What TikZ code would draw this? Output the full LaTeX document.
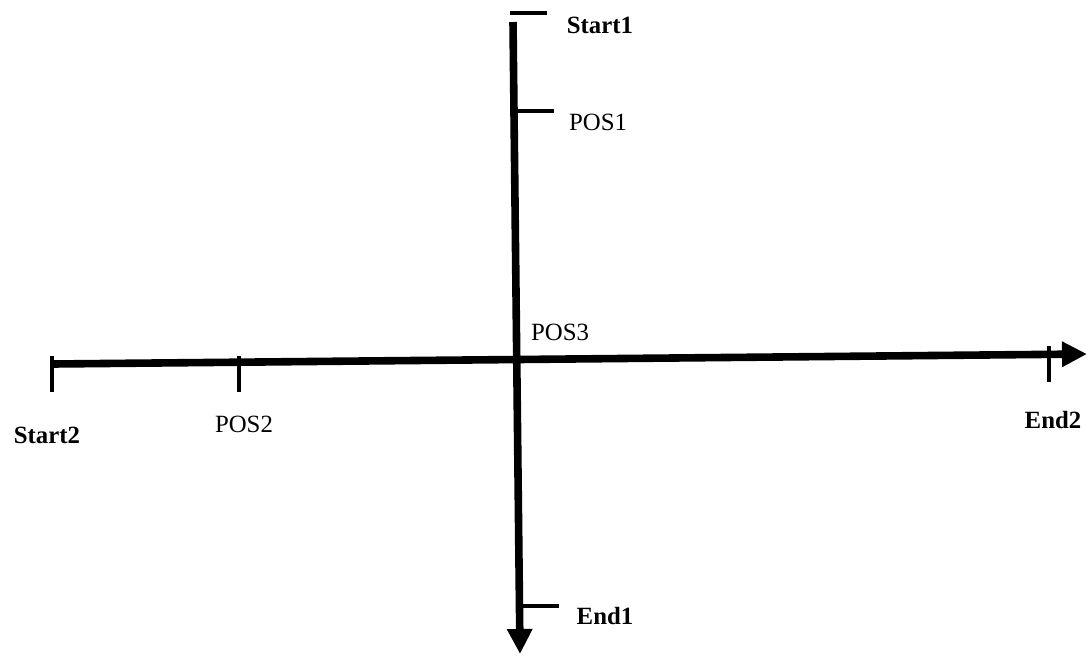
\documentclass[tikz,border=0pt]{standalone}
\usepackage{fontspec}
\setmainfont{Liberation Serif}
\usetikzlibrary{positioning, calc, arrows.meta}
\tikzset{
  axis line/.style={black, line width=3.8pt, -{Triangle[width=12pt,length=12.5pt]}},
  axis tick/.style={black, line width=1.9pt},
  lbl/.style={font=\fontsize{12.4}{14}\selectfont, inner sep=0},
  lbl end/.style={lbl, font=\fontsize{12.4}{14}\selectfont\bfseries}
}

\begin{document}
\begin{tikzpicture}[x=0.5pt, y=-0.5pt]
\useasboundingbox (0,0) rectangle (1087,655);

% axis ends
\coordinate (v0) at (513,22);
\coordinate (v1) at (520,654);
\coordinate (h0) at (52,364);
\coordinate (h1) at (1087,354);

\draw[axis line] (v0) -- (v1);
\draw[axis line] (h0) -- (h1);

% ticks on the vertical axis
\coordinate (t_s1a) at (510,13);  \coordinate (t_s1b) at (547,13);
\coordinate (t_p1a) at (516,111); \coordinate (t_p1b) at (554,111);
\coordinate (t_e1a) at (521,606); \coordinate (t_e1b) at (559,606);
\draw[axis tick] (t_s1a) -- (t_s1b);
\draw[axis tick] (t_p1a) -- (t_p1b);
\draw[axis tick] (t_e1a) -- (t_e1b);

% ticks on the horizontal axis
\coordinate (t_s2a) at (52,356);   \coordinate (t_s2b) at (52,392);
\coordinate (t_p2a) at (239,356);  \coordinate (t_p2b) at (239,392);
\coordinate (t_e2a) at (1049,346); \coordinate (t_e2b) at (1049,382);
\draw[axis tick] (t_s2a) -- (t_s2b);
\draw[axis tick] (t_p2a) -- (t_p2b);
\draw[axis tick] (t_e2a) -- (t_e2b);

% labels
\node[lbl end] (start1) at (600,25) {Start1};
\node[lbl] (pos1) at (598,122) {POS1};
\node[lbl] (pos3) at (560,332) {POS3};
\node[lbl end] (start2) at (47,435) {Start2};
\node[lbl] (pos2) at (244,424) {POS2};
\node[lbl end] (end2) at (1053,420) {End2};
\node[lbl end] (end1) at (605,616) {End1};

\end{tikzpicture}
\end{document}
